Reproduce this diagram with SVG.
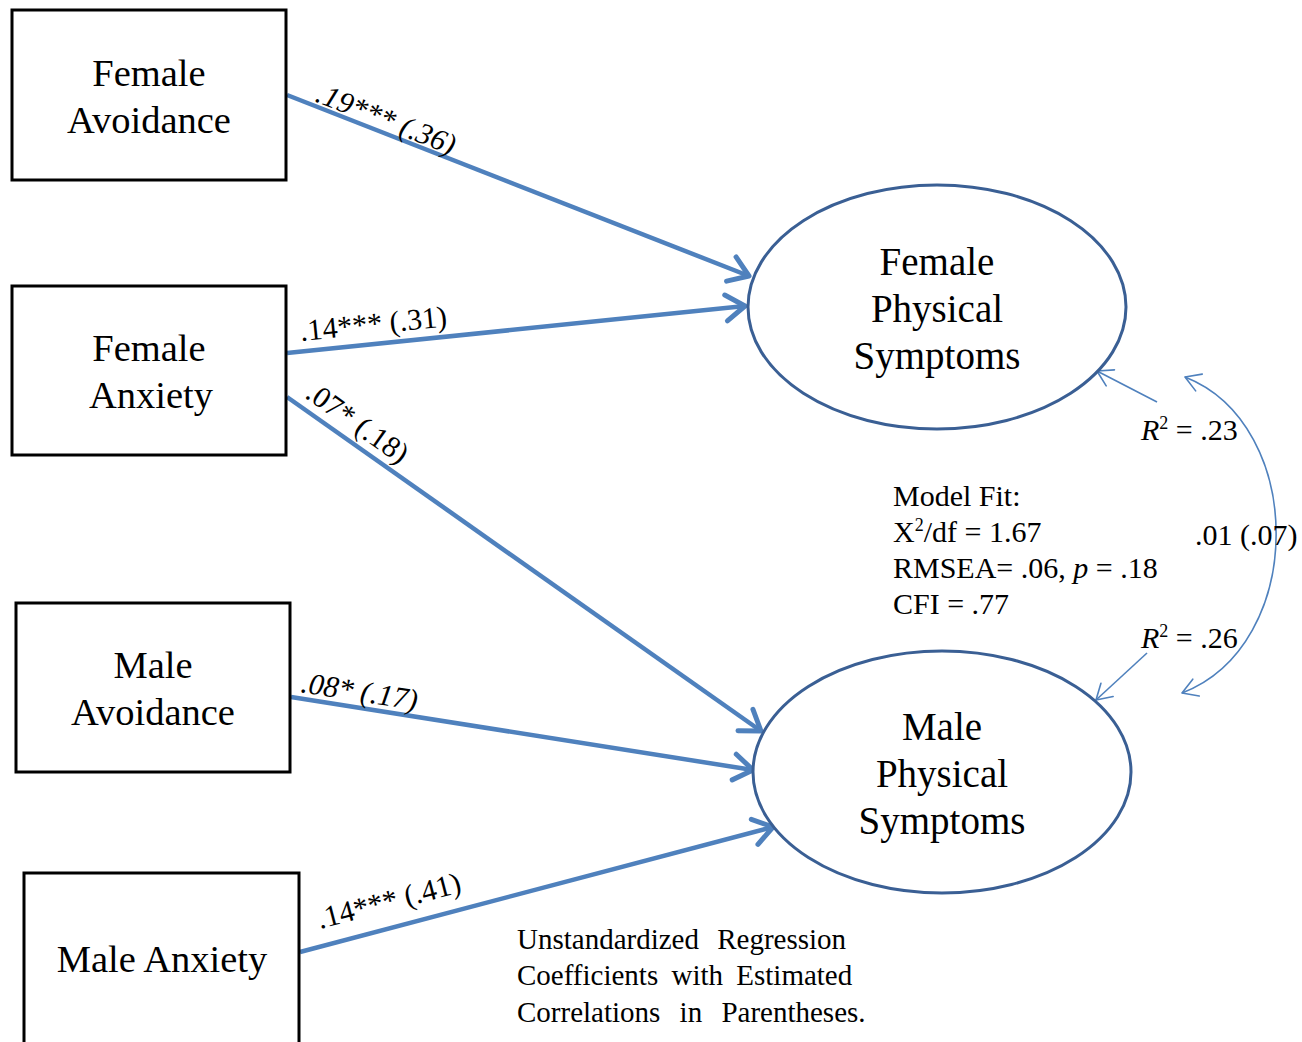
<svg xmlns="http://www.w3.org/2000/svg" width="1302" height="1042" viewBox="0 0 1302 1042">
<defs>
<style>
.box{fill:#fff;stroke:#000;stroke-width:3}
.ell{fill:#fff;stroke:#3a5f94;stroke-width:3}
.t{font-family:"Liberation Serif","Times New Roman",serif;fill:#000}
.node{font-size:38.5px;text-anchor:middle}
.enode{font-size:39px;text-anchor:middle}
.lab{font-size:30px}
.fit{font-size:30px}
.note{font-size:29px}
.thick{fill:none;stroke:#4f81bd;stroke-width:4.5;marker-end:url(#ah)}
.thin{fill:none;stroke:#4f81bd;stroke-width:1.6;marker-end:url(#ahs)}
</style>
<marker id="ah" markerUnits="userSpaceOnUse" markerWidth="50" markerHeight="50" viewBox="-30 -25 40 50" refX="0" refY="0" orient="auto">
<path d="M-19,-13 L0,0 L-19,13" fill="none" stroke="#4f81bd" stroke-width="5" stroke-linecap="round" stroke-linejoin="round"/>
</marker>
<marker id="ahs" markerUnits="userSpaceOnUse" markerWidth="40" markerHeight="40" viewBox="-25 -20 30 40" refX="0" refY="0" orient="auto-start-reverse">
<path d="M-15,-9 L0,0 L-15,9" fill="none" stroke="#4f81bd" stroke-width="1.6" stroke-linecap="round" stroke-linejoin="round"/>
</marker>
</defs>
<rect width="1302" height="1042" fill="#fff"/>

<g id="connectors">
<line class="thick" x1="287" y1="95" x2="749" y2="276"/>
<line class="thick" x1="287" y1="353" x2="745" y2="306"/>
<line class="thick" x1="287" y1="397" x2="761" y2="731"/>
<line class="thick" x1="291" y1="697" x2="753" y2="770"/>
<line class="thick" x1="300" y1="952" x2="773" y2="827"/>
<line class="thin" x1="1157" y1="402" x2="1097" y2="371"/>
<line class="thin" x1="1147" y1="653" x2="1096" y2="700"/>
<path class="thin" d="M1185,377 C1307,425 1307,645 1182,693" style="marker-start:url(#ahs)"/>
</g>

<g id="female-avoidance">
<rect class="box" x="12" y="10" width="274" height="170"/>
<text class="t node" x="149" y="86">Female</text>
<text class="t node" x="149" y="133">Avoidance</text>
</g>
<g id="female-anxiety">
<rect class="box" x="12" y="286" width="274" height="169"/>
<text class="t node" x="149" y="361">Female</text>
<text class="t node" x="151" y="408">Anxiety</text>
</g>
<g id="male-avoidance">
<rect class="box" x="16" y="603" width="274" height="169"/>
<text class="t node" x="153" y="678">Male</text>
<text class="t node" x="153" y="725">Avoidance</text>
</g>
<g id="male-anxiety">
<rect class="box" x="24" y="873" width="275" height="180"/>
<text class="t node" x="162" y="972">Male Anxiety</text>
</g>
<g id="female-physical-symptoms">
<ellipse class="ell" cx="937" cy="307" rx="189" ry="122"/>
<text class="t enode" x="937" y="275">Female</text>
<text class="t enode" x="937" y="322">Physical</text>
<text class="t enode" x="937" y="369">Symptoms</text>
</g>
<g id="male-physical-symptoms">
<ellipse class="ell" cx="942" cy="772" rx="189" ry="121"/>
<text class="t enode" x="942" y="740">Male</text>
<text class="t enode" x="942" y="787">Physical</text>
<text class="t enode" x="942" y="834">Symptoms</text>
</g>

<g id="labels">
<text class="t lab" font-style="italic" transform="translate(314,101) rotate(21.6)">.19*** (.36)</text>
<text class="t lab" transform="translate(301,341) rotate(-5.7)">.14*** (.31)</text>
<text class="t lab" transform="translate(304,397) rotate(35.3)">.07* (.18)</text>
<text class="t lab" font-style="italic" transform="translate(300,692) rotate(8.9)">.08* (.17)</text>
<text class="t lab" transform="translate(320,929) rotate(-14.6)">.14*** (.41)</text>
<text class="t fit" x="1141" y="440"><tspan font-style="italic">R</tspan><tspan font-size="18" dy="-11">2</tspan><tspan dy="11"> = .23</tspan></text>
<text class="t fit" x="1141" y="648"><tspan font-style="italic">R</tspan><tspan font-size="18" dy="-11">2</tspan><tspan dy="11"> = .26</tspan></text>
<text class="t fit" x="1195" y="545">.01 (.07)</text>
</g>

<g id="model-fit">
<text class="t fit" x="893" y="506">Model Fit:</text>
<text class="t fit" x="893" y="542">X<tspan font-size="18" dy="-11">2</tspan><tspan dy="11">/df = 1.67</tspan></text>
<text class="t fit" x="893" y="578">RMSEA= .06, <tspan font-style="italic">p</tspan> = .18</text>
<text class="t fit" x="893" y="614">CFI = .77</text>
</g>

<g id="note">
<text class="t note" x="517" y="949" style="word-spacing:11px">Unstandardized Regression</text>
<text class="t note" x="517" y="985" style="word-spacing:6px">Coefficients with Estimated</text>
<text class="t note" x="517" y="1022" style="word-spacing:12px">Correlations in Parentheses.</text>
</g>
</svg>
